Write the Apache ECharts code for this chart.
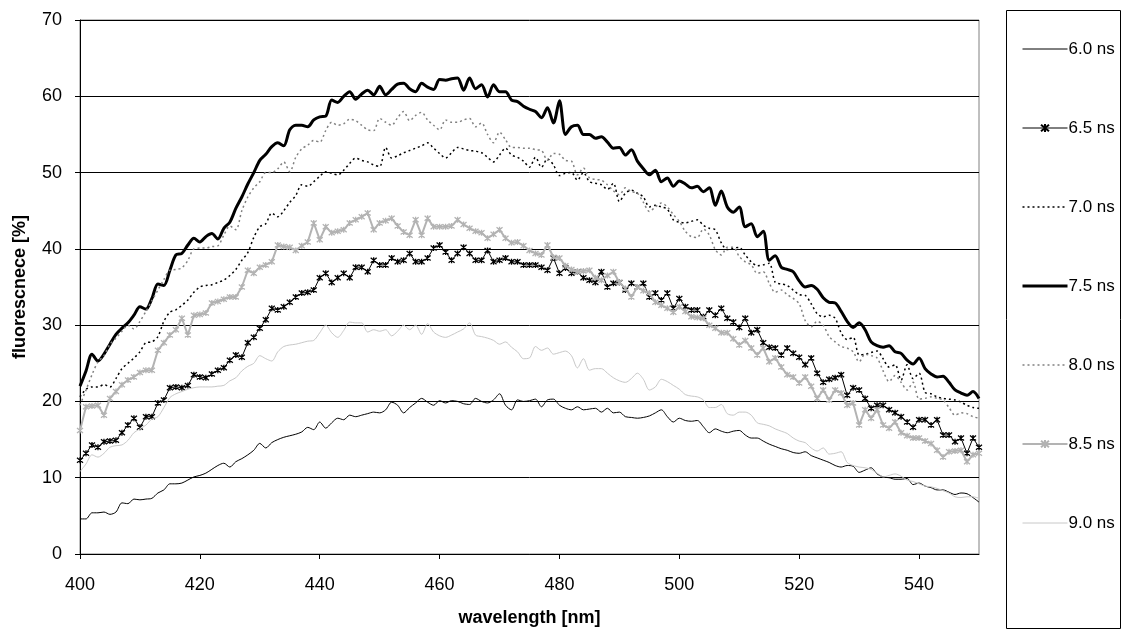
<!DOCTYPE html>
<html>
<head>
<meta charset="utf-8">
<script src="https://cdn.jsdelivr.net/npm/echarts@6/dist/echarts.min.js"></script>
<style>
html,body{margin:0;padding:0;background:#fff;}
#chart{width:1128px;height:635px;}
</style>
</head>
<body>
<div id="chart"></div>
<script>
// wavelength axis: 400 .. 550 nm in 1 nm steps
const wlStart = 400, wlStep = 1;
const xTicks = [400, 420, 440, 460, 480, 500, 520, 540];
const yTicks = [0, 10, 20, 30, 40, 50, 60, 70];
const seriesNames = ['6.0 ns', '6.5 ns', '7.0 ns', '7.5 ns', '8.0 ns', '8.5 ns', '9.0 ns'];

const s60 = [4.6,4.6,5.4,5.4,5.5,5.2,5.5,6.7,6.6,7.2,7.1,7.2,7.3,8.0,8.4,9.2,9.2,9.3,9.7,10.1,10.3,10.6,11.1,11.6,11.9,11.4,
12.1,12.5,13.0,13.6,14.5,13.9,14.6,15.0,15.3,15.5,15.7,16.0,16.6,16.3,17.3,16.5,17.2,17.8,17.6,18.2,18.0,18.2,18.4,18.6,18.5,
18.9,19.9,19.5,18.5,19.2,19.8,20.4,19.9,19.5,20.1,19.8,20.1,20.0,19.7,19.6,20.4,20.0,19.8,20.2,21.0,19.5,18.9,20.2,20.0,20.1,
20.3,19.3,20.2,20.3,19.5,19.1,18.9,19.3,18.9,19.0,19.1,18.6,19.1,18.5,18.6,18.0,17.9,17.8,17.9,18.1,18.5,18.9,18.0,17.3,17.8,
17.5,17.4,17.5,16.7,15.9,16.4,16.1,15.9,16.1,16.2,15.6,15.2,15.2,14.8,14.4,14.1,13.8,13.6,13.3,13.2,13.4,12.9,12.6,12.3,12.0,
11.6,11.4,11.6,11.5,10.7,11.0,11.3,10.5,10.1,10.0,9.8,9.8,9.9,9.1,9.3,8.9,8.7,8.4,8.4,8.1,7.8,8.0,7.9,7.4,6.8];

const s65 = [12.3,13.2,14.3,14.0,14.7,14.8,14.9,15.9,16.9,17.8,16.6,18.0,18.0,19.8,20.2,21.8,21.9,21.8,22.1,23.5,23.2,23.1,23.6,24.1,24.4,
25.4,26.1,25.8,27.7,28.4,29.6,30.7,32.2,32.0,32.4,33.0,33.7,34.2,34.3,34.6,36.2,36.8,35.6,36.2,36.8,36.2,37.6,37.6,37.0,38.5,
37.9,37.9,38.8,38.3,38.5,39.4,38.3,38.3,38.8,40.1,40.5,39.6,38.5,39.4,40.2,39.4,38.5,38.5,39.8,38.3,38.5,38.8,38.3,38.3,37.9,
37.9,37.9,37.6,37.2,38.8,36.8,37.5,36.8,37.0,36.2,35.9,35.6,37.0,35.0,35.5,35.6,34.6,35.5,35.0,35.5,33.7,34.2,33.3,34.2,32.2,
33.5,32.4,32.0,32.0,31.1,32.0,31.3,32.2,30.9,30.4,29.7,30.9,29.0,29.4,27.7,27.1,27.0,26.1,27.0,26.3,25.8,24.8,25.7,23.7,22.5,
22.9,23.1,23.5,20.8,21.8,21.5,20.4,19.1,19.5,19.5,18.9,18.5,18.0,17.3,16.6,17.6,17.6,16.9,17.6,15.6,15.6,14.7,15.2,13.2,15.2,14.0];

const s70 = [20.6,21.6,21.9,21.9,22.2,21.9,23.0,24.3,25.0,25.7,26.5,27.7,27.8,28.5,30.5,31.7,32.0,32.6,33.3,34.3,35.0,35.2,35.3,35.6,35.9,36.5,
37.3,38.5,39.5,41.5,42.9,43.3,44.7,44.2,45.0,46.1,47.0,48.4,48.2,48.8,49.5,50.1,49.9,49.7,50.3,51.2,51.9,51.6,51.4,51.0,50.8,
53.3,51.9,52.2,52.6,52.9,53.2,53.5,53.9,53.2,52.5,51.9,52.6,53.3,53.1,52.9,52.8,52.6,52.0,51.4,52.3,53.2,52.3,52.0,51.5,50.7,
52.0,50.7,51.8,51.0,49.6,49.9,50.0,49.0,50.0,48.8,48.6,48.4,47.8,48.6,46.2,47.3,47.7,47.3,46.8,45.5,45.7,45.5,45.2,43.8,43.5,
43.4,43.6,43.8,43.1,42.7,42.5,40.8,39.9,40.1,40.2,39.2,38.3,37.8,37.9,38.1,35.6,35.4,35.2,34.6,34.0,33.9,32.8,31.5,31.1,31.3,
30.9,29.0,28.1,28.4,26.1,26.2,26.4,26.6,25.6,24.5,24.8,22.8,24.8,23.0,23.7,21.2,21.0,20.6,20.4,20.3,20.2,19.9,19.5,19.2,19.1];

const s75 = [22.0,24.0,26.2,25.3,26.2,27.5,28.8,29.6,30.3,31.3,32.4,32.1,33.5,35.4,35.2,37.2,39.2,39.4,40.5,41.4,40.9,41.6,42.0,41.3,42.7,43.5,
45.3,46.8,48.5,50.0,51.6,52.4,53.4,53.9,53.5,55.6,56.2,56.2,56.0,56.9,57.3,57.4,59.5,59.2,60.0,60.6,59.6,60.3,60.8,60.2,61.3,
60.2,60.9,61.6,61.7,61.0,60.6,61.7,61.2,60.9,62.2,62.1,62.3,62.4,60.8,62.4,61.0,61.5,59.9,61.5,60.6,60.6,59.5,59.3,58.7,58.3,
58.0,57.2,58.5,56.5,59.4,55.0,56.0,56.2,55.0,55.0,54.5,54.7,54.0,53.2,53.3,52.3,53.0,51.5,50.5,49.7,50.3,48.8,49.3,48.2,48.9,
48.5,48.0,48.2,47.5,48.0,45.7,47.6,45.5,44.8,45.5,42.9,43.3,41.6,42.3,38.5,39.1,37.6,37.3,37.0,35.8,35.0,35.2,34.7,33.6,33.0,
32.9,31.8,30.5,29.7,30.3,29.4,27.8,27.3,27.1,27.3,26.5,26.3,25.4,24.9,25.7,24.3,23.6,23.2,23.3,22.5,21.5,21.1,20.8,21.3,20.4];

const s80 = [19.5,21.5,23.5,25.2,26.0,27.5,28.3,29.2,30.0,29.5,30.5,31.8,33.2,34.6,36.0,37.2,37.3,37.5,38.5,40.0,40.1,40.1,40.3,40.4,41.8,43.0,
42.5,45.0,46.8,48.0,48.8,50.0,50.0,50.5,51.4,50.1,52.0,53.1,53.6,54.2,54.0,55.5,56.6,56.2,56.4,57.0,56.8,56.2,55.6,55.5,57.1,
56.6,56.2,57.2,58.0,56.8,57.5,57.9,56.9,56.2,55.6,56.9,56.6,56.6,56.9,57.1,56.0,56.5,55.0,53.9,55.3,54.3,53.3,53.3,53.2,53.2,
53.0,52.9,51.6,52.5,52.4,51.6,51.5,49.7,50.6,49.3,49.1,49.0,48.4,47.6,47.1,48.0,47.5,47.3,46.1,44.9,45.5,46.0,45.5,44.5,43.6,
42.3,41.6,41.5,42.6,41.8,39.9,39.2,40.2,40.2,39.0,38.3,37.9,36.8,37.0,35.5,34.3,34.6,34.0,33.5,32.8,30.6,29.8,30.5,30.0,28.5,
27.8,27.2,27.0,26.5,25.2,26.2,26.0,25.7,24.0,22.6,23.4,22.5,21.5,22.5,20.3,20.4,20.6,20.4,20.2,19.2,18.2,18.5,18.4,18.0,17.8];

const s85 = [16.2,19.3,19.4,19.5,18.2,20.4,21.3,22.2,22.8,23.2,23.8,24.1,24.1,26.7,27.7,28.7,29.4,30.9,28.7,31.3,31.4,31.6,32.9,33.1,33.4,33.7,
33.7,35.0,37.2,36.8,37.6,37.9,38.3,40.5,40.3,40.2,39.8,40.4,40.9,43.4,41.2,42.9,42.1,42.3,42.5,43.4,43.8,44.2,44.7,42.5,43.4,
43.7,44.0,43.0,42.2,41.8,43.8,41.8,44.0,42.9,42.9,42.9,43.0,43.8,43.2,42.7,42.3,42.1,41.4,41.9,42.5,41.4,40.8,40.9,40.4,39.8,
39.4,39.2,40.5,38.9,38.8,37.8,37.3,37.0,37.1,37.2,36.2,35.9,36.5,37.0,35.6,34.8,33.7,35.0,34.5,34.2,33.0,32.6,32.2,31.7,32.4,
31.8,31.1,31.0,30.9,30.0,29.6,29.0,29.0,28.2,27.4,28.0,27.0,26.1,27.0,25.2,25.7,24.5,23.5,23.2,22.4,23.2,22.0,20.4,21.5,20.2,
21.5,21.1,19.5,19.8,16.9,18.9,17.8,18.9,16.9,16.5,17.3,15.9,15.5,15.2,15.2,14.8,14.5,13.6,12.7,13.4,13.5,13.6,12.1,13.0,13.2];

const s90 = [10.8,11.8,13.0,12.7,13.2,14.0,14.2,14.3,14.9,15.9,16.4,16.9,17.7,18.0,19.2,20.5,21.0,21.3,21.6,21.8,21.9,21.9,21.9,22.0,22.1,22.7,
23.1,24.0,24.6,25.0,26.0,25.6,25.3,26.5,27.2,27.4,27.5,27.7,27.9,28.0,29.0,30.0,29.0,28.4,29.3,30.4,30.3,30.3,29.1,29.4,29.2,
29.4,28.6,29.2,30.0,29.4,30.0,28.8,30.2,29.1,28.6,28.4,28.7,29.1,29.5,30.3,28.7,28.5,28.3,28.0,27.5,27.8,27.1,26.5,25.6,25.7,
27.2,26.7,27.0,26.2,26.4,26.6,26.0,24.4,25.6,24.1,24.3,24.3,23.7,23.1,22.7,22.5,23.0,23.7,22.9,21.5,21.9,22.9,22.6,22.1,21.6,
20.9,20.7,20.6,20.2,19.2,19.2,19.6,18.4,18.2,18.6,18.6,18.2,17.2,17.0,16.8,16.4,16.1,15.8,15.2,14.8,14.6,13.9,13.5,13.9,13.1,
13.2,13.4,12.0,11.6,11.4,11.3,11.1,10.6,10.1,10.3,10.5,10.2,9.7,9.5,9.2,8.9,8.8,8.6,8.3,8.0,7.5,7.4,7.5,7.5,7.3];

const values = [s60, s65, s70, s75, s80, s85, s90];
function pairs(arr){ return arr.map((v,i)=>[wlStart + i*wlStep, v]); }

const FONT = 'Liberation Sans, Arial, sans-serif';
const starPath = 'path://M0,0L10,10M10,0L0,10M5,-1L5,11';

const styles = [
  {color:'#000000', width:1, type:'solid', symbol:'none', smooth:0.3},
  {color:'#000000', width:1, type:'solid', symbol:starPath, smooth:false},
  {color:'#000000', width:1.5, type:[2,3], symbol:'none', smooth:0.3},
  {color:'#000000', width:3, type:'solid', symbol:'none', smooth:0.3},
  {color:'#808080', width:1.5, type:[2,3], symbol:'none', smooth:0.3},
  {color:'#b3b3b3', width:2, type:'solid', symbol:starPath, smooth:false},
  {color:'#c8c8c8', width:1, type:'solid', symbol:'none', smooth:0.3}
];

const series = seriesNames.map((name, k) => {
  const st = styles[k];
  return {
    name: name,
    type: 'line',
    data: pairs(values[k]),
    smooth: st.smooth,
    showSymbol: st.symbol !== 'none',
    symbol: st.symbol,
    symbolSize: 6,
    lineStyle: {color: st.color, width: st.width, type: st.type},
    itemStyle: {color: st.color, borderColor: st.color, borderWidth: 1.3},
    emphasis: {disabled: true},
    z: 2 + k
  };
});

const legendData = seriesNames.map((name, k) => {
  const st = styles[k];
  const item = {name: name, lineStyle: {color: st.color, width: st.width, type: st.type}};
  if (st.symbol === 'none') {
    item.itemStyle = {color: 'rgba(0,0,0,0)', borderColor: 'rgba(0,0,0,0)', opacity: 0};
  }
  return item;
});

const chart = echarts.init(document.getElementById('chart'), null, {renderer:'canvas'});
chart.setOption({
  animation: false,
  backgroundColor: '#ffffff',
  grid: {left: 80, right: 149, top: 20, bottom: 81, show: true, borderColor: '#808080', borderWidth: 1},
  xAxis: {
    type: 'value', min: 400, max: 550, interval: 10,
    name: 'wavelength [nm]', nameLocation: 'middle', nameGap: 55,
    nameTextStyle: {fontFamily: FONT, fontSize: 18, fontWeight: 'bold', color: '#000'},
    axisLine: {show: true, onZero: false, lineStyle: {color: '#000', width: 1}},
    axisTick: {show: true, length: 5, inside: false, customValues: xTicks, lineStyle: {color: '#000'}},
    axisLabel: {customValues: xTicks, fontFamily: FONT, fontSize: 18, color: '#000', margin: 22},
    splitLine: {show: false}
  },
  yAxis: {
    type: 'value', min: 0, max: 70, interval: 10,
    name: 'fluorescnece [%]', nameLocation: 'middle', nameGap: 51, nameRotate: 90,
    nameTextStyle: {fontFamily: FONT, fontSize: 18, fontWeight: 'bold', color: '#000'},
    axisLine: {show: true, lineStyle: {color: '#000', width: 1}},
    axisTick: {show: true, length: 5, lineStyle: {color: '#000'}},
    axisLabel: {fontFamily: FONT, fontSize: 18, color: '#000', margin: 18},
    splitLine: {show: true, lineStyle: {color: '#000', width: 1}}
  },
  legend: {
    orient: 'vertical', left: 1016, top: 34,
    itemWidth: 45, itemHeight: 10, itemGap: 59,
    data: legendData,
    selectedMode: false,
    textStyle: {fontFamily: FONT, fontSize: 17, color: '#000', lineHeight: 20, padding: [0,0,0,-4]}
  },
  graphic: [{
    type: 'rect', left: 1004, top: 8, z: 0,
    shape: {width: 114, height: 618},
    style: {fill: 'none', stroke: '#000', lineWidth: 1}
  }],
  series: series
});
</script>
</body>
</html>
